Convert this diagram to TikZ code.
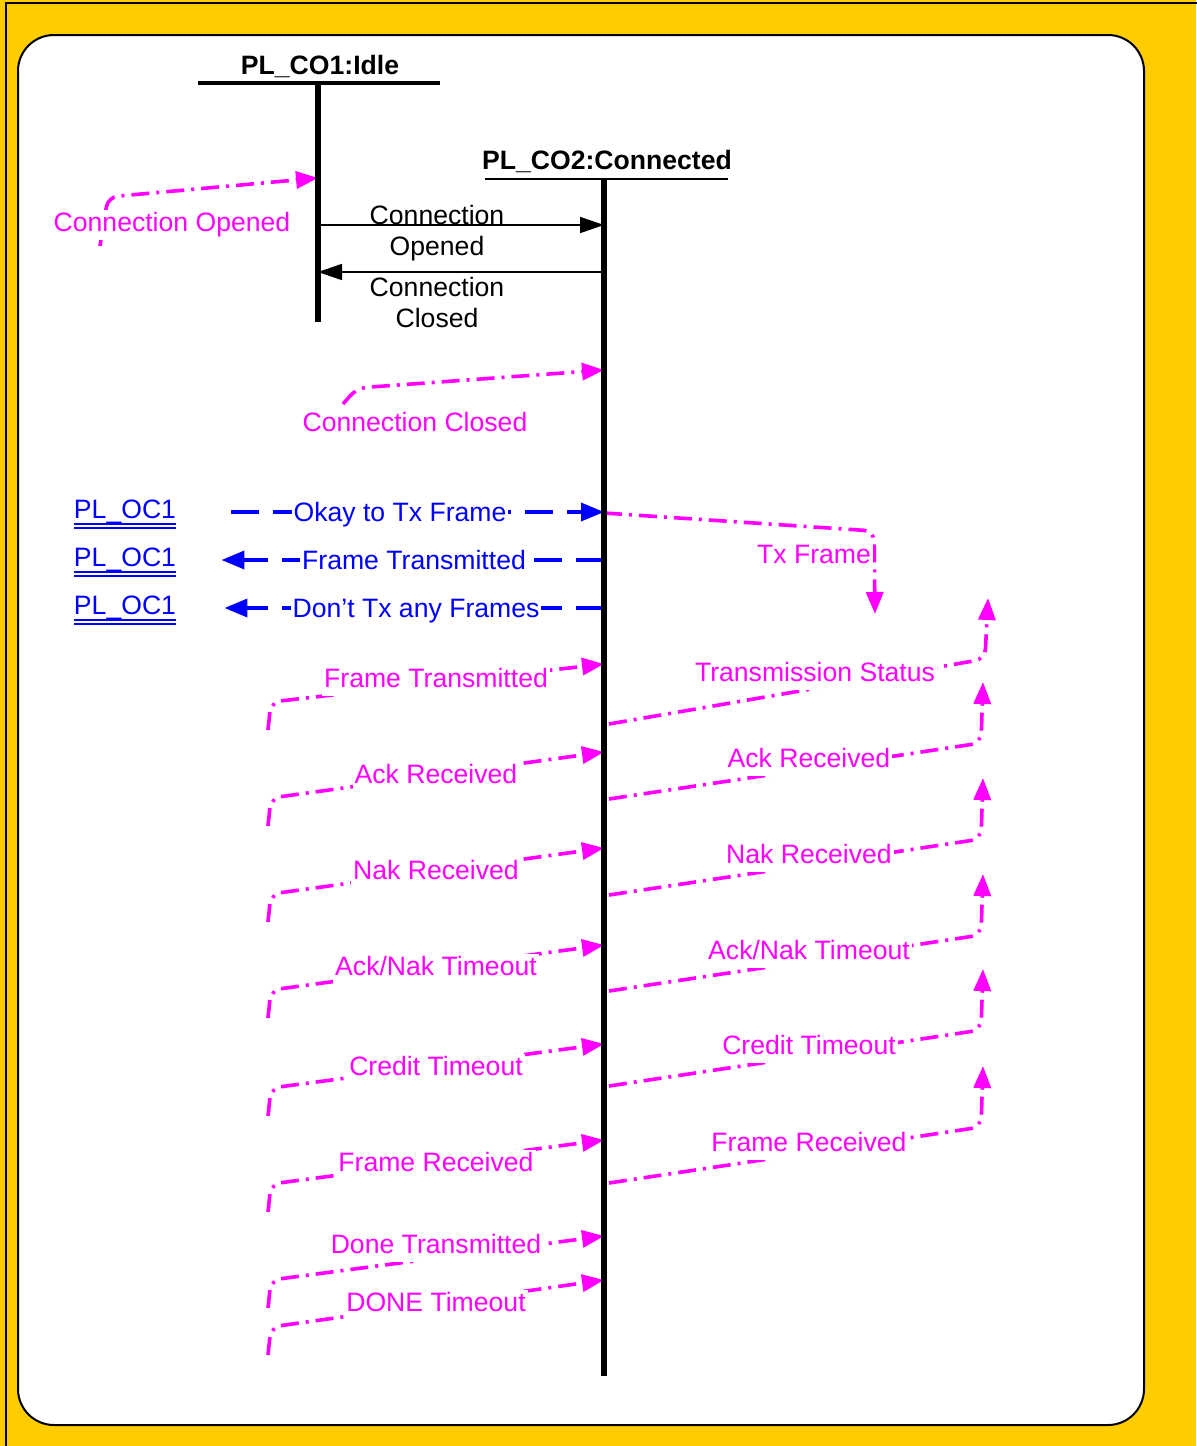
\documentclass[tikz,border=0pt]{standalone}
\usepackage{fontspec}
\setmainfont{Liberation Sans}
\usetikzlibrary{arrows.meta}
\definecolor{frameyellow}{RGB}{255,204,0}
\definecolor{sigmag}{RGB}{255,0,255}
\definecolor{flowblue}{RGB}{0,0,255}
\begin{document}
\begin{tikzpicture}[x=0.5pt,y=-0.5pt,
  txt/.style={font=\fontsize{13.3}{15.5}\selectfont, inner sep=1pt},
  head/.style={font=\fontsize{13.3}{15.5}\selectfont\bfseries, inner sep=1pt},
  lifeline/.style={line width=3pt},
  call/.style={line width=0.8pt, -{Triangle[length=12pt,width=8pt]}},
  sig/.style={sigmag, line width=1.8pt, dash pattern=on 9pt off 3.5pt on 1.5pt off 3.5pt,
    rounded corners=5pt, -{Triangle[length=11pt,width=8.5pt]}},
  siglbl/.style={txt, text=sigmag, fill=white, text height=10pt, text depth=3pt, yshift=-1.3pt},
  flow/.style={flowblue, line width=1.8pt, dash pattern=on 14pt off 7pt,
    -{Triangle[length=11.5pt,width=9pt]}},
  flowlbl/.style={txt, text=flowblue, fill=white, text height=10pt, text depth=3pt, yshift=-1.3pt},
  link/.style={txt, text=flowblue, inner sep=0pt}]
\useasboundingbox (0,0) rectangle (1196,1446);

% Frame
\fill[frameyellow] (0,0) rectangle (1196,1446);
\draw[line width=1.2pt] (6,1460) -- (6,3) -- (1210,3);
\draw[fill=white, line width=1pt, rounded corners=18pt] (18,35) rectangle (1144,1425);

% Lifeline heads
\node[head] (co1) at (320,66) {PL\_CO1:Idle};
\draw[line width=2pt] (198,83) -- (440,83);
\coordinate (co1top) at (318,83);
\coordinate (co1bot) at (318,322);
\node[head] (co2) at (607,161) {PL\_CO2:Connected};
\draw[line width=0.6pt] (485,179) -- (728,179);
\coordinate (co2top) at (604,179);
\coordinate (co2bot) at (604,1376);

% Connection calls between the states
\coordinate (openA) at (318,225);
\coordinate (openB) at (604,225);
\draw[call] (openA) -- (openB);
\node[txt, align=center] (openlbl) at (437,233) {Connection\\Opened};
\coordinate (closeA) at (604,272);
\coordinate (closeB) at (318,272);
\draw[call] (closeA) -- (closeB);
\node[txt, align=center] (closelbl) at (437,302) {Connection\\Closed};

% Connection signals
\coordinate (cop-start) at (100,246);
\coordinate (cop-bend) at (108,197);
\coordinate (cop-end) at (318,178);
\draw[sig] (cop-start) -- (cop-bend) -- (cop-end);
\node[siglbl] (cop-lbl) at (172,222) {Connection Opened};
\coordinate (ccl-start) at (343,404);
\coordinate (ccl-bend) at (357,388);
\coordinate (ccl-end) at (604,370);
\draw[sig] (ccl-start) -- (ccl-bend) -- (ccl-end);
\node[siglbl] (ccl-lbl) at (415,422) {Connection Closed};

% Flow control with PL_OC1
\foreach \n/\y in {a/512, b/560, c/608}{
  \node[link] (oc1\n) at (125,\y) {PL\_OC1};
  \foreach \d in {2.6,4.8}
    \draw[flowblue, line width=0.9pt] ([yshift=-\d pt]oc1\n.base west) -- ([yshift=-\d pt]oc1\n.base east);
}
\draw[flow] ([xshift=27.5pt]oc1a.east) -- (co2top |- oc1a.east);
\node[flowlbl] (okay) at (400,512) {Okay to Tx Frame};
\draw[flow] (co2top |- oc1b.east) -- ([xshift=22.5pt]oc1b.east);
\node[flowlbl] (ftx) at (414,560) {Frame Transmitted};
\draw[flow] (co2top |- oc1c.east) -- ([xshift=24pt]oc1c.east);
\node[flowlbl] (dtx) at (416,608) {Don't Tx any Frames};

% Tx Frame and Transmission Status
\coordinate (txf-start) at (604,513);
\coordinate (txf-bend) at (874,531);
\coordinate (txf-end) at (875,614);
\draw[sig] (txf-start) -- (txf-bend) -- (txf-end);
\node[siglbl] (txf-lbl) at (814,554) {Tx Frame};
\coordinate (tst-start) at (609,724);
\coordinate (tst-bend) at (985,659);
\coordinate (tst-end) at (988,598);
\draw[sig] (tst-start) -- (tst-bend) -- (tst-end);
\node[siglbl] (tst-lbl) at (815,672) {Transmission Status};

% Signals into PL_CO2
\foreach \n/\lab/\tip/\bot/\txt in {
  ft/678/664/730/Frame Transmitted,
  ar/774/752/826/Ack Received,
  nr/870/848/922/Nak Received,
  ant/966/945/1018/{Ack/Nak Timeout},
  ct/1066/1044/1116/Credit Timeout,
  fr/1162/1140/1212/Frame Received,
  dt/1244/1236/1308/Done Transmitted,
  dto/1302/1280/1355/DONE Timeout}{
  \coordinate (\n-start) at (268,\bot);
  \coordinate (\n-bend) at (271,\bot-28);
  \coordinate (\n-end) at (604,\tip);
  \draw[sig] (\n-start) -- (\n-bend) -- (\n-end);
  \node[siglbl] (\n-lbl) at (436,\lab) {\txt};
}

% Signals out of PL_CO2
\foreach \n/\s/\txt in {
  rar/799/Ack Received,
  rnr/895/Nak Received,
  rant/991/{Ack/Nak Timeout},
  rct/1086/Credit Timeout,
  rfr/1183/Frame Received}{
  \coordinate (\n-start) at (609,\s);
  \coordinate (\n-bend) at (981,\s-56);
  \coordinate (\n-end) at (983,\s-117);
  \draw[sig] (\n-start) -- (\n-bend) -- (\n-end);
  \node[siglbl] (\n-lbl) at (809,\s-41) {\txt};
}

% Lifelines
\draw[lifeline] (co1top) -- (co1bot);
\draw[lifeline] (co2top) -- (co2bot);
\end{tikzpicture}
\end{document}
